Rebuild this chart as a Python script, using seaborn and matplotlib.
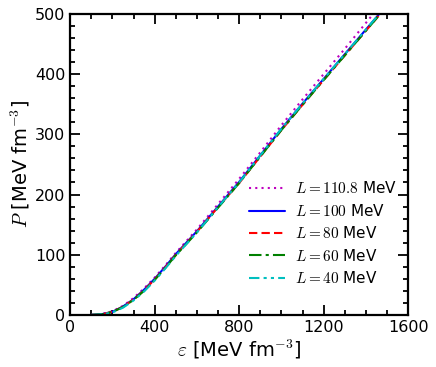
import numpy as np
import pandas as pd
import matplotlib
matplotlib.use("Agg")
import matplotlib.pyplot as plt
import seaborn as sns
from matplotlib.ticker import MultipleLocator

sns.set_style("ticks")
plt.rcParams['font.family'] = ['DejaVu Sans']
plt.rcParams['mathtext.fontset'] = 'cm'
plt.rcParams['text.color'] = 'black'
plt.rcParams['axes.labelcolor'] = 'black'
plt.rcParams['xtick.color'] = 'black'
plt.rcParams['ytick.color'] = 'black'
plt.rcParams['axes.edgecolor'] = 'black'

# energy density grid [MeV fm^-3]
eps = [100, 150, 200, 250, 300, 350, 400, 450, 500, 600, 700, 800,
       900, 1000, 1100, 1200, 1300, 1400, 1500]

# pressure [MeV fm^-3] for each slope parameter L
p_L1108 = [0, 1.5, 6, 15, 28, 44, 62, 82, 103, 142, 184, 226, 270, 315, 358, 400, 442, 485, 528]
p_L100 = [0, 1.2, 5, 14, 26, 42, 60, 80, 101, 139, 180, 221, 265, 309, 351, 392, 433, 474, 515]
p_L80 = [0, 1.0, 5, 13.5, 25.5, 41, 59, 79, 100, 138, 179, 219, 263, 307, 349, 390, 431, 472, 513]
p_L60 = [0, 1.0, 5, 13, 25, 40, 58, 78, 99, 137, 178, 219, 263, 307, 349, 390, 431, 472, 513]
p_L40 = [0, 0.8, 4, 12, 24, 39, 57, 77, 98, 137, 179, 220, 265, 309, 351, 392, 433, 474, 515]

labels = [r'$L = 110.8$ MeV', r'$L = 100$ MeV', r'$L = 80$ MeV',
          r'$L = 60$ MeV', r'$L = 40$ MeV']
series = [p_L1108, p_L100, p_L80, p_L60, p_L40]
colors = ['m', 'b', 'r', 'g', 'c']
styles = [(0, (1, 2)), '-', (0, (4, 2)), (0, (6, 2, 1.5, 2)), (0, (5, 2, 1.5, 2, 1.5, 2))]

fig = plt.figure(figsize=(4.36, 3.67), dpi=100)
ax = fig.add_axes([0.161, 0.142, 0.775, 0.820])

for p, lab, c, ls in zip(series, labels, colors, styles):
    df = pd.DataFrame({'eps': eps, 'P': p})
    sns.lineplot(data=df, x='eps', y='P', ax=ax, color=c, linestyle=ls,
                 linewidth=1.5, label=lab)

ax.set_xlim(0, 1600)
ax.set_ylim(0, 500)
ax.xaxis.set_major_locator(MultipleLocator(400))
ax.xaxis.set_minor_locator(MultipleLocator(100))
ax.yaxis.set_major_locator(MultipleLocator(100))
ax.yaxis.set_minor_locator(MultipleLocator(20))
ax.tick_params(which='both', direction='in', top=True, right=True, width=1.3,
               labelsize=11.5)
ax.tick_params(which='major', length=7)
ax.tick_params(which='minor', length=3.5)
for s in ax.spines.values():
    s.set_linewidth(1.6)

ax.set_xlabel(r'$\varepsilon$ [MeV fm$^{-3}$]', fontsize=14, labelpad=2)
ax.set_ylabel(r'$P$ [MeV fm$^{-3}$]', fontsize=14, labelpad=2)

leg = ax.legend(loc='lower right', frameon=False, fontsize=11,
                handlelength=2.3, handletextpad=0.7, labelspacing=0.42,
                borderaxespad=0.3, bbox_to_anchor=(1.0, 0.06))

fig.savefig('out.png', dpi=100)
